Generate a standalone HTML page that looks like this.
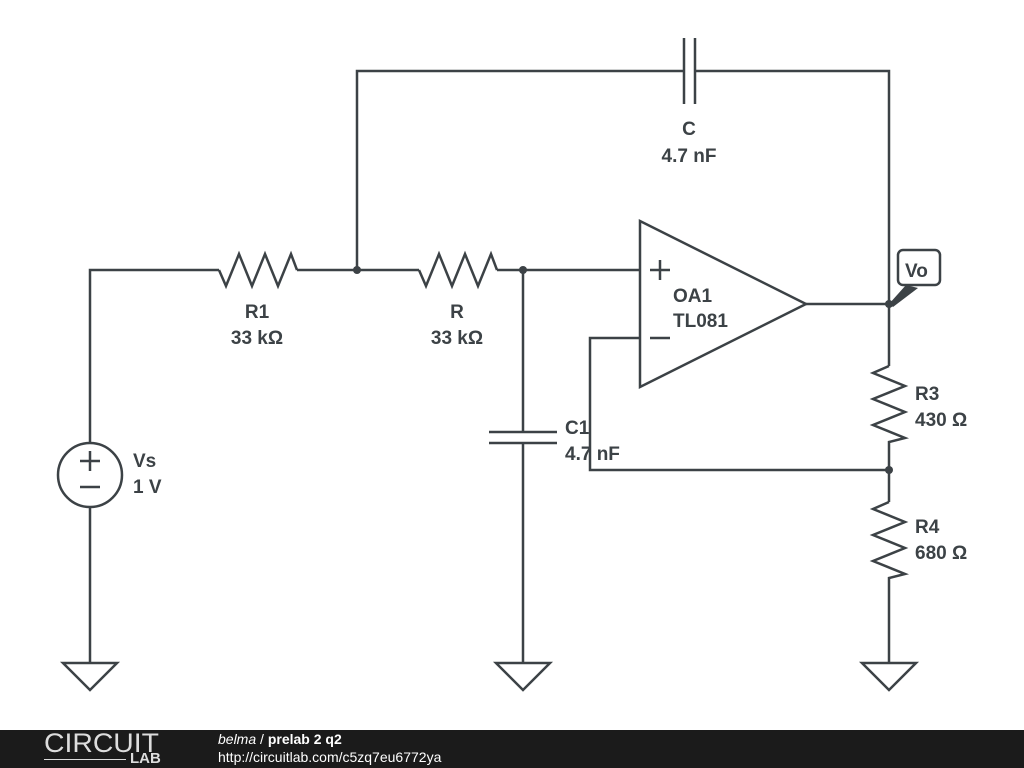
<!DOCTYPE html>
<html><head><style>
body{margin:0;width:1024px;height:768px;background:#fff;overflow:hidden;position:relative;font-family:"Liberation Sans",sans-serif}
.f{position:absolute;left:0;top:730px;width:1024px;height:38px;background:#1b1b1b;color:#fff}
</style></head><body>
<svg width="1024" height="730" style="position:absolute;left:0;top:0" font-family="Liberation Sans, sans-serif" font-weight="bold" font-size="19" fill="#3c4246">
<g stroke="#3c4246" stroke-width="2.5" fill="none" stroke-linejoin="miter">
<polyline points="90,443 90,270 219,270"/>
<polyline points="219,270 226,286 239,254 252,286 265,254 278,286 291,254 297,270"/>
<line x1="297" y1="270" x2="419" y2="270"/>
<polyline points="419,270 426,286 439,254 452,286 465,254 478,286 491,254 497,270"/>
<line x1="497" y1="270" x2="640" y2="270"/>
<polyline points="357,270 357,71 684,71"/>
<line x1="684" y1="38" x2="684" y2="104"/>
<line x1="695" y1="38" x2="695" y2="104"/>
<polyline points="695,71 889,71 889,366"/>
<line x1="806" y1="304" x2="889" y2="304"/>
<polygon points="640,221 640,387 806,304"/>
<line x1="650" y1="270" x2="670" y2="270"/><line x1="660" y1="260" x2="660" y2="280"/>
<line x1="650" y1="338" x2="670" y2="338"/>
<polyline points="640,338 590,338 590,470 889,470"/>
<polyline points="889,366 873,373 905,386 873,399 905,412 873,425 905,438 889,442 889,502"/>
<polyline points="889,502 873,509 905,522 873,535 905,548 873,561 905,574 889,578 889,663"/>
<polyline points="523,270 523,432"/>
<line x1="489" y1="432" x2="557" y2="432"/>
<line x1="489" y1="443" x2="557" y2="443"/>
<line x1="523" y1="443" x2="523" y2="663"/>
<circle cx="90" cy="475" r="32"/>
<line x1="80" y1="461" x2="100" y2="461"/><line x1="90" y1="451" x2="90" y2="471"/>
<line x1="80" y1="487" x2="100" y2="487"/>
<line x1="90" y1="507" x2="90" y2="663"/>
<polygon points="63,663 117,663 90,690"/>
<polygon points="496,663 550,663 523,690"/>
<polygon points="862,663 916,663 889,690"/>
<rect x="898" y="250" width="42" height="35" rx="5"/>
</g>
<polygon points="889,304 906,285 918,288 893,307"/>
<circle cx="357" cy="270" r="4"/><circle cx="523" cy="270" r="4"/><circle cx="889" cy="304" r="4"/><circle cx="889" cy="470" r="4"/>
<text x="905" y="277">Vo</text>
<text x="689" y="135" text-anchor="middle">C</text>
<text x="689" y="162" text-anchor="middle">4.7 nF</text>
<text x="257" y="318" text-anchor="middle">R1</text>
<text x="257" y="344" text-anchor="middle">33 kΩ</text>
<text x="457" y="318" text-anchor="middle">R</text>
<text x="457" y="344" text-anchor="middle">33 kΩ</text>
<text x="673" y="302">OA1</text>
<text x="673" y="327">TL081</text>
<text x="565" y="434">C1</text>
<text x="565" y="460">4.7 nF</text>
<text x="133" y="467">Vs</text>
<text x="133" y="493">1 V</text>
<text x="915" y="400">R3</text>
<text x="915" y="426">430 Ω</text>
<text x="915" y="533">R4</text>
<text x="915" y="559">680 Ω</text>
</svg>
<div class="f">
<div style="position:absolute;left:44px;top:-2px;font-size:27px;letter-spacing:0px;color:#ddd;transform:scaleX(1.05);transform-origin:left">CIRCUIT</div>
<div style="position:absolute;left:44px;top:29px;width:82px;height:1px;background:#ddd"></div>
<div style="position:absolute;left:130px;top:21px;font-size:15px;font-weight:bold;color:#ddd;line-height:16px">LAB</div>
<div style="position:absolute;left:218px;top:1px;font-size:14px;color:#fff"><i>belma</i> / <b>prelab 2 q2</b></div>
<div style="position:absolute;left:218px;top:19px;font-size:14px;color:#fff">http://circuitlab.com/c5zq7eu6772ya</div>
</div>
</body></html>
